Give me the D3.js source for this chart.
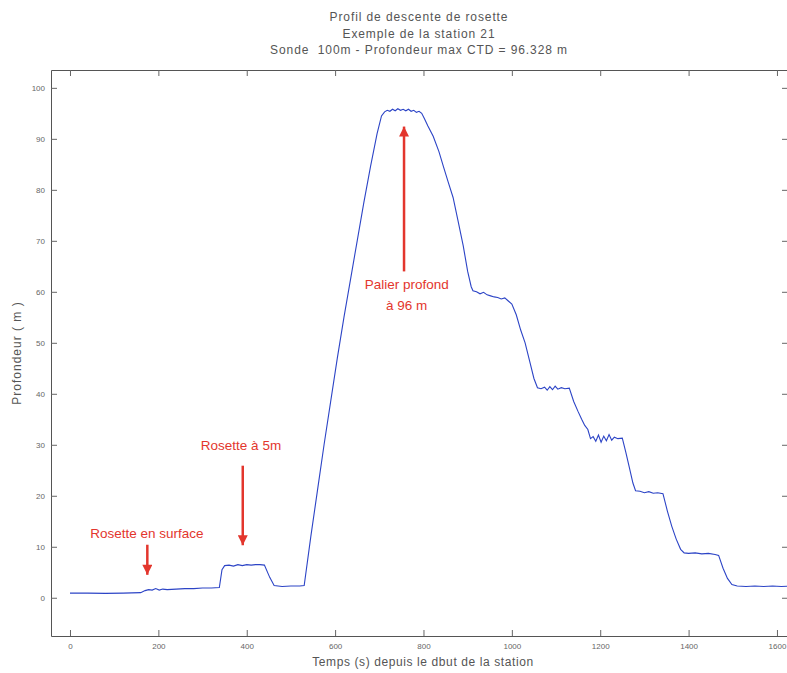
<!DOCTYPE html>
<html>
<head>
<meta charset="utf-8">
<script src="https://cdn.jsdelivr.net/npm/d3@7"></script>
<style>
body { margin: 0; background: #fff; }
text { font-family: "Liberation Sans", Arial, sans-serif; }
</style>
</head>
<body>
<div id="chart"></div>
<script>
// chart texts
const titleLines = [
    "Profil de descente de rosette",
    "Exemple de la station 21",
    "Sonde  100m - Profondeur max CTD = 96.328 m"
];
const xLabel = "Temps (s) depuis le dbut de la station";
const yLabel = "Profondeur ( m )";

const xTicks = [0, 200, 400, 600, 800, 1000, 1200, 1400, 1600];
const yTicks = [0, 10, 20, 30, 40, 50, 60, 70, 80, 90, 100];

// depth record (time in s, depth in m)
const timeS = [
    0, 40, 80, 120, 160, 170, 178, 186, 194, 202, 210, 220, 240, 260, 280, 300, 320, 338,
    344, 350, 360, 370, 380, 390, 400, 410, 420, 430, 440, 452, 462, 480, 500, 520, 530,
    545, 560, 575, 590, 605, 620, 635, 650, 665, 680, 695, 705, 712,
    718, 724, 730, 736, 742, 748, 754, 760, 766, 772, 778, 784, 790, 796, 802,
    810, 822, 835, 845, 856, 867, 878, 890, 900, 908,
    912, 920, 928, 936, 944, 952, 960, 968, 976, 984, 992, 1000,
    1010, 1020, 1030, 1040, 1050, 1058,
    1066, 1074, 1080, 1086, 1092, 1098, 1104, 1112, 1120, 1130,
    1140, 1150, 1158, 1165, 1172, 1178,
    1184, 1190, 1196, 1202, 1208, 1214, 1220, 1226, 1232, 1240, 1250,
    1258, 1266, 1274, 1280,
    1290, 1300, 1310, 1320, 1330, 1342,
    1352, 1362, 1372, 1382, 1390,
    1400, 1415, 1430, 1445, 1460, 1468,
    1478, 1488, 1498,
    1510, 1530, 1550, 1570, 1590, 1610, 1630
];
const depthM = [
    0.9, 0.9, 0.85, 0.9, 1.0, 1.4, 1.6, 1.5, 1.8, 1.5, 1.7, 1.6, 1.7, 1.8, 1.8, 1.9, 1.9, 2.0,
    5.5, 6.3, 6.4, 6.2, 6.5, 6.3, 6.5, 6.4, 6.5, 6.5, 6.4, 4.0, 2.4, 2.2, 2.3, 2.3, 2.4,
    12, 21, 30, 38.5, 47, 55, 62.5, 70, 77.5, 84.5, 91, 94.5, 95.3,
    95.6, 95.4, 95.8, 95.5, 95.9, 95.6, 95.8, 95.5, 95.8, 95.4, 95.6, 95.2, 95.4, 95.0, 94.0,
    92.5, 90.5, 87.5, 84.6, 81.5, 78.5, 74, 69, 64, 61,
    60.2, 60.0, 59.6, 59.9, 59.4, 59.2, 59.0, 58.9, 58.6, 58.8, 58.2, 57.6,
    55.5, 52.5, 50.0, 46.5, 43.0, 41.2,
    41.0, 41.3, 40.7, 41.4, 40.8, 41.5, 40.9, 41.2, 41.0, 41.1,
    38.5, 36.5, 35.0, 33.8, 33.0, 31.2,
    31.6, 30.7, 31.9, 30.5, 31.7, 30.8, 32.0, 30.9, 31.5, 31.2, 31.3,
    28.5, 25.5, 22.5, 21.0,
    20.9, 20.6, 20.8, 20.5, 20.6, 20.4,
    17.0, 14.0, 11.5, 9.5, 8.8,
    8.7, 8.8, 8.6, 8.7, 8.5, 8.3,
    5.8, 3.8, 2.6,
    2.3, 2.2, 2.3, 2.2, 2.3, 2.2, 2.3
];

// annotations, anchored in data units
const noteText = [["Rosette en surface"], ["Rosette à 5m"], ["Palier profond", "à 96 m"]];
const noteTime = [174, 387, 762];
const noteDepth = [12.7, 30, 61.4];
const arrowTime = [175, 391, 756];
const arrowFrom = [10.4, 25.9, 64];
const arrowTo = [4.5, 10.3, 92.4];

const width = 787, height = 673;
const margin = {top: 70, right: -1, bottom: 37, left: 51};

const red = "#e3362d";

const svg = d3.select("#chart").append("svg")
    .attr("width", width)
    .attr("height", height);

const x = d3.scaleLinear().domain([-43, 1625]).range([margin.left, width - margin.right]);
const y = d3.scaleLinear().domain([-7.5, 103.5]).range([height - margin.bottom, margin.top]);

svg.append("defs").append("clipPath").attr("id", "plot")
    .append("rect")
    .attr("x", x.range()[0]).attr("y", y.range()[1])
    .attr("width", x.range()[1] - x.range()[0])
    .attr("height", y.range()[0] - y.range()[1]);

// inward ticks on all four sides, like the matlab box
const tickLen = 6;
const axisBottom = d3.axisBottom(x).tickValues(xTicks).tickFormat(d3.format("d"))
    .tickSizeInner(-tickLen).tickSizeOuter(0).tickPadding(7);
const axisTop = d3.axisTop(x).tickValues(xTicks).tickSizeInner(-tickLen).tickSizeOuter(0).tickFormat("");
const axisLeft = d3.axisLeft(y).tickValues(yTicks).tickFormat(d3.format("d"))
    .tickSizeInner(-tickLen).tickSizeOuter(0).tickPadding(7);
const axisRight = d3.axisRight(y).tickValues(yTicks).tickSizeInner(-tickLen).tickSizeOuter(0).tickFormat("");

svg.append("g").attr("transform", `translate(0, ${y.range()[0]})`).call(axisBottom);
svg.append("g").attr("transform", `translate(0, ${y.range()[1]})`).call(axisTop);
const gy = svg.append("g").attr("transform", `translate(${x.range()[0]}, 0)`).call(axisLeft);
svg.append("g").attr("transform", `translate(${x.range()[1]}, 0)`).call(axisRight);

svg.selectAll(".domain").attr("stroke", "#555");
svg.selectAll(".tick line").attr("stroke", "#666");
svg.selectAll(".tick text")
    .attr("fill", "#666")
    .style("font-size", "8px");
gy.selectAll(".tick text").attr("x", -6);

// depth trace
const line = d3.line()
    .x((d, i) => x(timeS[i]))
    .y(d => y(d));

svg.append("path")
    .datum(depthM)
    .attr("clip-path", "url(#plot)")
    .attr("fill", "none")
    .attr("stroke", "#2c44c6")
    .attr("stroke-width", 1.1)
    .attr("d", line);

// titles
svg.append("g").selectAll("text")
    .data(titleLines)
    .enter().append("text")
    .attr("x", 419)
    .attr("y", (d, i) => 21 + i * 16.5)
    .attr("text-anchor", "middle")
    .attr("fill", "#555")
    .style("font-size", "12px")
    .style("letter-spacing", "0.9px")
    .style("white-space", "pre")
    .text(d => d);

svg.append("text")
    .attr("x", 423)
    .attr("y", 666)
    .attr("text-anchor", "middle")
    .attr("fill", "#555")
    .style("font-size", "12px")
    .style("letter-spacing", "0.6px")
    .text(xLabel);

svg.append("text")
    .attr("transform", "translate(21, 353) rotate(-90)")
    .attr("text-anchor", "middle")
    .attr("fill", "#555")
    .style("font-size", "12px")
    .style("letter-spacing", "1px")
    .text(yLabel);

// red annotations
const defs = svg.select("defs");
defs.append("marker")
    .attr("id", "head")
    .attr("viewBox", "0 0 10 10")
    .attr("refX", 10).attr("refY", 5)
    .attr("markerUnits", "userSpaceOnUse")
    .attr("markerWidth", 13).attr("markerHeight", 10)
    .attr("orient", "auto")
    .append("path")
    .attr("d", "M0,0 L10,5 L0,10 Z")
    .attr("fill", red);

svg.append("g").selectAll("line")
    .data(arrowTime)
    .enter().append("line")
    .attr("x1", d => x(d))
    .attr("x2", d => x(d))
    .attr("y1", (d, i) => y(arrowFrom[i]))
    .attr("y2", (d, i) => y(arrowTo[i]))
    .attr("stroke", red)
    .attr("stroke-width", 2.5)
    .attr("marker-end", "url(#head)");

noteText.forEach((lines, i) => {
    svg.append("text")
        .attr("x", x(noteTime[i]))
        .attr("y", y(noteDepth[i]))
        .attr("text-anchor", "middle")
        .attr("fill", red)
        .style("font-size", "13.5px")
        .selectAll("tspan")
        .data(lines)
        .enter().append("tspan")
        .attr("x", x(noteTime[i]))
        .attr("dy", (d, j) => j === 0 ? "0.35em" : "1.55em")
        .text(d => d);
});
</script>
</body>
</html>
